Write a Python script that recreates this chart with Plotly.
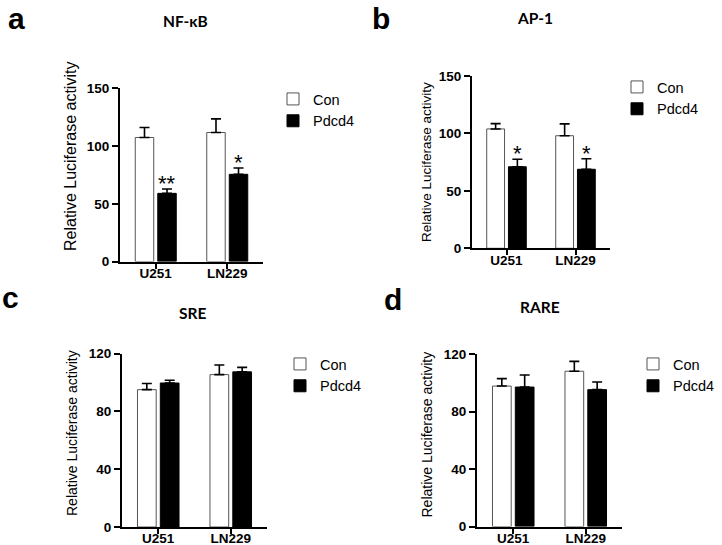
import plotly.graph_objects as go

W, H = 722, 545

# ---------------- data ----------------
cell_lines = ["U251", "LN229"]
series_names = ["Con", "Pdcd4"]

a_con = [107.4, 111.7]
a_con_err = [8.6, 11.8]
a_pdcd4 = [59.0, 75.5]
a_pdcd4_err = [3.8, 5.5]
a_sig = ["**", "*"]

b_con = [103.9, 98.0]
b_con_err = [4.6, 10.3]
b_pdcd4 = [71.0, 68.8]
b_pdcd4_err = [6.5, 9.2]
b_sig = ["*", "*"]

c_con = [95.0, 105.4]
c_con_err = [4.2, 6.6]
c_pdcd4 = [99.6, 107.3]
c_pdcd4_err = [1.9, 3.1]

d_con = [97.7, 108.0]
d_con_err = [5.2, 6.9]
d_pdcd4 = [97.0, 95.2]
d_pdcd4_err = [8.4, 5.3]

panel_letters = ["a", "b", "c", "d"]
panel_titles = ["NF-\u03baB", "AP-1", "SRE", "RARE"]
y_title = "Relative Luciferase activity"
y_ticks_ab = [0, 50, 100, 150]
y_ticks_cd = [0, 40, 80, 120]

# ---------------- layout helpers ----------------
def fx(p):
    return p / W

def fy(p):
    return 1 - p / H

# letter: (x centre, y px, yanchor)
panels = [
    dict(key="", x=(120, 263), y=(88.3, 261.5), con=a_con, cerr=a_con_err, pd=a_pdcd4, perr=a_pdcd4_err,
         sig=a_sig, ymax=150, ticks=y_ticks_ab, legend="legend",
         leg=(273, 110), letter=(16, 0, "top"), title=(185, 21), ytitle=(71, 157, 16)),
    dict(key="2", x=(472, 610), y=(76, 248.3), con=b_con, cerr=b_con_err, pd=b_pdcd4, perr=b_pdcd4_err,
         sig=b_sig, ymax=150, ticks=y_ticks_ab, legend="legend2",
         leg=(617, 98), letter=(381, 0, "top"), title=(535, 18), ytitle=(426, 162, 13.5)),
    dict(key="3", x=(122, 267), y=(353.5, 527), con=c_con, cerr=c_con_err, pd=c_pdcd4, perr=c_pdcd4_err,
         sig=None, ymax=120, ticks=y_ticks_cd, legend="legend3",
         leg=(280, 375), letter=(10, 297.6, "middle"), title=(192, 313), ytitle=(72, 433, 14)),
    dict(key="4", x=(477, 622), y=(354, 526.5), con=d_con, cerr=d_con_err, pd=d_pdcd4, perr=d_pdcd4_err,
         sig=None, ymax=120, ticks=y_ticks_cd, legend="legend4",
         leg=(633, 375), letter=(393, 299.6, "middle"), title=(540, 307), ytitle=(426.5, 435, 14)),
]

fig = go.Figure()
layout = dict(
    width=W, height=H,
    margin=dict(l=0, r=0, t=0, b=0, autoexpand=False),
    paper_bgcolor="white", plot_bgcolor="rgba(0,0,0,0)",
    barmode="group", bargap=0.37, bargroupgap=0.18,
    annotations=[],
)

axis_font = dict(family="Arial, Liberation Sans", size=13.5, color="black", weight="bold")
leg_font = dict(family="Arial, Liberation Sans", size=14.5, color="black")

for i, p in enumerate(panels):
    xa = "x" + p["key"]
    ya = "y" + p["key"]
    fig.add_trace(go.Bar(
        x=cell_lines, y=p["con"], name=series_names[0],
        marker=dict(color="white", line=dict(color="#555555", width=1)),
        error_y=dict(type="data", array=p["cerr"], arrayminus=[0, 0], symmetric=False,
                     color="black", thickness=1.6, width=5),
        xaxis=xa, yaxis=ya, legend=p["legend"], showlegend=True,
    ))
    fig.add_trace(go.Bar(
        x=cell_lines, y=p["pd"], name=series_names[1],
        marker=dict(color="black", line=dict(color="black", width=1)),
        error_y=dict(type="data", array=p["perr"], arrayminus=[0, 0], symmetric=False,
                     color="black", thickness=1.6, width=5),
        xaxis=xa, yaxis=ya, legend=p["legend"], showlegend=True,
    ))

    layout["xaxis" + p["key"]] = dict(
        domain=[fx(p["x"][0]), fx(p["x"][1])], anchor=ya,
        type="category", range=[-0.5, 1.5], automargin=False,
        showline=True, linecolor="black", linewidth=2,
        ticks="outside", ticklen=5, tickwidth=2, tickcolor="black",
        ticklabelstandoff=-7,
        tickfont=axis_font, showgrid=False, zeroline=False, fixedrange=True,
    )
    layout["yaxis" + p["key"]] = dict(
        domain=[fy(p["y"][1]), fy(p["y"][0])], anchor=xa,
        range=[0, p["ymax"]], tickvals=p["ticks"], automargin=False,
        showline=True, linecolor="black", linewidth=2,
        ticks="outside", ticklen=6, tickwidth=2, tickcolor="black",
        tickfont=axis_font, showgrid=False, zeroline=False, fixedrange=True,
    )
    layout[p["legend"]] = dict(
        x=fx(p["leg"][0]), y=fy(p["leg"][1]), xanchor="left", yanchor="middle",
        font=leg_font, bgcolor="rgba(0,0,0,0)", tracegroupgap=0,
    )

    layout["annotations"].append(dict(
        text=panel_letters[i], xref="paper", yref="paper",
        x=fx(p["letter"][0]), y=fy(p["letter"][1]), xanchor="center", yanchor=p["letter"][2],
        showarrow=False, font=dict(family="Arial, Liberation Sans", size=30, color="black", weight="bold"),
    ))
    layout["annotations"].append(dict(
        text=panel_titles[i], xref="paper", yref="paper",
        x=fx(p["title"][0]), y=fy(p["title"][1]), xanchor="center", yanchor="middle",
        showarrow=False, font=dict(family="Lato", size=15.5, color="black", weight="bold"),
    ))
    layout["annotations"].append(dict(
        text=y_title, xref="paper", yref="paper", textangle=-90,
        x=fx(p["ytitle"][0]), y=fy(p["ytitle"][1]), xanchor="center", yanchor="middle",
        showarrow=False, font=dict(family="Arial, Liberation Sans", size=p["ytitle"][2], color="black"),
    ))
    if p["sig"]:
        for cat, v, e, s in zip(cell_lines, p["pd"], p["perr"], p["sig"]):
            layout["annotations"].append(dict(
                text=s, xref=xa, yref=ya, x=cat, y=v + e,
                xanchor="center", yanchor="bottom", xshift=11, yshift=-9,
                showarrow=False, font=dict(family="Arial, Liberation Sans", size=22, color="black"),
            ))

fig.update_layout(**layout)
fig.write_html("out.html", config={"displayModeBar": False},
               post_script="document.body.style.margin='0px';")
